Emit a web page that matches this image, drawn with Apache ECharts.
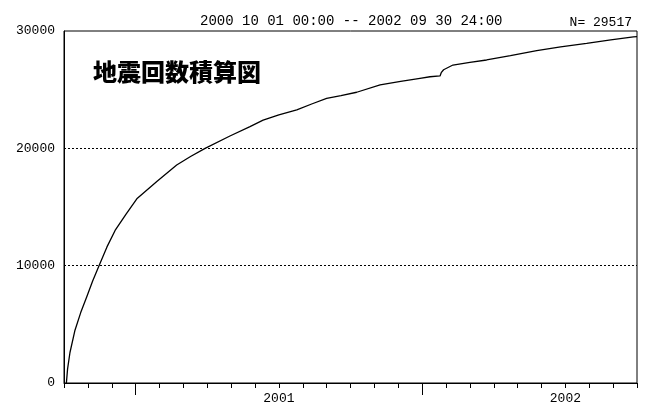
<!DOCTYPE html>
<html>
<head>
<meta charset="utf-8">
<script src="https://cdn.jsdelivr.net/npm/echarts@6/dist/echarts.min.js"></script>
<style>
    html, body { margin: 0; padding: 0; background: #fff; }
    #chart { width: 645px; height: 411px; }
</style>
</head>
<body>
<div id="chart"></div>
<script>
(function () {
    'use strict';

    // months elapsed since 2000-10-01 00:00
    var monthsElapsed = [0.1, 0.15, 0.25, 0.46, 0.7, 0.95, 1.2, 1.48, 1.8, 2.14, 2.6, 3.05, 3.9, 4.72, 5.3, 5.91,
        6.95, 7.79, 8.34, 9.0, 9.75, 10.4, 11.0, 11.6, 12.26, 13.24, 14.1, 14.91, 15.33, 15.75, 15.8, 15.9,
        16.29, 17.0, 17.7, 18.7, 19.8, 20.8, 21.89, 22.9, 23.85, 24];
    // cumulative earthquake count
    var cumCount = [0, 1200, 2600, 4500, 6000, 7330, 8700, 10060, 11600, 13000, 14400, 15700, 17200, 18580, 19300, 20000,
        21050, 21850, 22400, 22850, 23270, 23800, 24260, 24500, 24780, 25400, 25700, 25970, 26100, 26170, 26450, 26700,
        27100, 27330, 27530, 27900, 28320, 28650, 28950, 29250, 29500, 29517];

    var yearTickMonths = [3, 15];
    var yearLabelMonths = [9, 21];
    var yearLabels = ['2001', '2002'];
    var periodText = '2000 10 01 00:00 -- 2002 09 30 24:00';
    var totalText = 'N= 29517';
    var chartTitle = '地震回数積算図';

    var seriesData = monthsElapsed.map(function (m, i) {
        return [m, cumCount[i]];
    });

    var monoFont = '"Liberation Mono", "DejaVu Sans Mono", monospace';

    var myChart = echarts.init(document.getElementById('chart'), null, { renderer: 'canvas' });
    var option = {
        backgroundColor: '#fff',
        animation: false,
        title: [
            {
                text: periodText,
                left: 195, top: 9,
                textStyle: { fontFamily: monoFont, fontSize: 14, fontWeight: 'normal', color: '#000' }
            },
            {
                text: totalText,
                right: 8, top: 11,
                textStyle: { fontFamily: monoFont, fontSize: 13, fontWeight: 'normal', color: '#000' }
            },
            {
                text: chartTitle,
                left: 88, top: 55,
                textStyle: { fontFamily: '"Noto Sans CJK JP"', fontSize: 24, fontWeight: 900, color: '#000' }
            }
        ],
        grid: {
            left: 64, right: 8, top: 31, bottom: 28,
            show: true, borderColor: '#000', borderWidth: 1
        },
        xAxis: [
            {
                type: 'value', min: 0, max: 24, interval: 1,
                axisLine: { show: true, lineStyle: { color: '#000', width: 1 } },
                axisTick: { show: true, length: 5, lineStyle: { color: '#000' } },
                axisLabel: { show: false },
                splitLine: { show: false }
            },
            {
                type: 'value', min: 0, max: 24, position: 'bottom',
                axisLine: { show: false },
                axisTick: { show: true, length: 12, customValues: yearTickMonths, lineStyle: { color: '#000' } },
                axisLabel: {
                    show: true, customValues: yearLabelMonths, margin: 9,
                    fontFamily: monoFont, fontSize: 13, color: '#000',
                    formatter: function (v) {
                        return yearLabels[yearLabelMonths.indexOf(v)];
                    }
                },
                splitLine: { show: false }
            }
        ],
        yAxis: {
            type: 'value', min: 0, max: 30000, interval: 10000,
            axisLine: { show: true, lineStyle: { color: '#000' } },
            axisTick: { show: false },
            axisLabel: {
                margin: 9, fontFamily: monoFont, fontSize: 13, color: '#000',
                formatter: function (v) { return String(v); }
            },
            splitLine: {
                show: true, showMinLine: false, showMaxLine: false,
                lineStyle: { color: '#000', type: [2, 2], width: 1 }
            }
        },
        series: [
            {
                type: 'line',
                data: seriesData,
                showSymbol: false,
                lineStyle: { color: '#000', width: 1.3 },
                itemStyle: { color: '#000' }
            }
        ]
    };
    myChart.setOption(option);
})();
</script>
</body>
</html>
